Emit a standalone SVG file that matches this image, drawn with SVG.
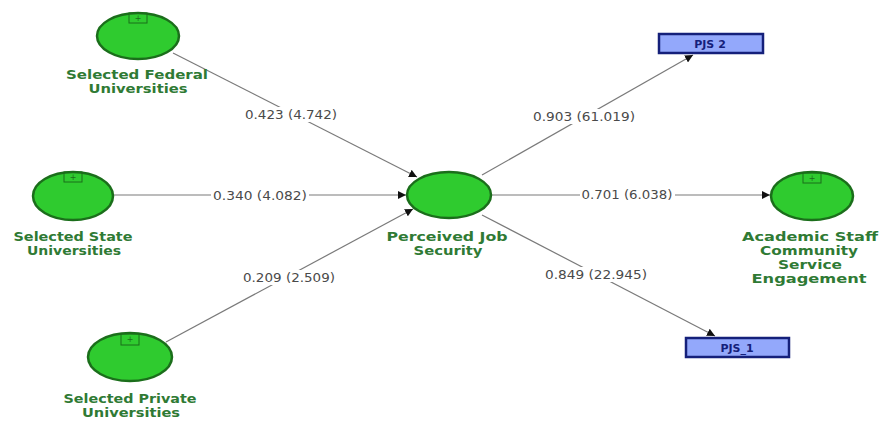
<svg xmlns="http://www.w3.org/2000/svg" width="879" height="421" viewBox="0 0 879 421">
<style>
.lv{fill:#2fcb2f;stroke:#1b6e1b;stroke-width:2.5}
.mk{fill:none;stroke:#1b6e1b;stroke-width:1}
.mkt{font-family:"DejaVu Sans",sans-serif;font-size:8px;fill:#1b6e1b;text-anchor:middle}
.nl{font-family:"DejaVu Sans",sans-serif;font-weight:bold;font-size:12px;fill:#2f7a34;text-anchor:middle}
.ind{fill:#93a8fb;stroke:#15207a;stroke-width:2.5}
.il{font-family:"DejaVu Sans",sans-serif;font-weight:bold;font-size:11px;fill:#15207a;text-anchor:middle}
.e{stroke:#7a7a7a;stroke-width:1.2;fill:none;marker-end:url(#ah)}
.el{font-family:"DejaVu Sans",sans-serif;font-size:11.5px;fill:#4a4a4a;text-anchor:middle}
.bg{fill:#fff}
</style>
<defs>
<marker id="ah" viewBox="0 0 10 10" refX="10" refY="5" markerWidth="8" markerHeight="8" orient="auto" markerUnits="userSpaceOnUse">
<path d="M0,0 L10,5 L0,10 z" fill="#111"/>
</marker>
</defs>
<rect width="879" height="421" fill="#fff"/>
<g id="connectors">
<line class="e" x1="173" y1="53" x2="417" y2="177"/>
<line class="e" x1="113" y1="195" x2="406" y2="195"/>
<line class="e" x1="166" y1="342" x2="413" y2="209"/>
<line class="e" x1="482" y1="175" x2="693" y2="55"/>
<line class="e" x1="491" y1="195" x2="770" y2="195"/>
<line class="e" x1="482" y1="215" x2="715" y2="336"/>
<rect class="bg" x="243" y="107" width="96" height="15"/>
<text class="el" x="291" y="119" textLength="92" lengthAdjust="spacingAndGlyphs">0.423 (4.742)</text>
<rect class="bg" x="211" y="188" width="98" height="15"/>
<text class="el" x="260" y="200" textLength="94" lengthAdjust="spacingAndGlyphs">0.340 (4.082)</text>
<rect class="bg" x="241" y="270" width="96" height="15"/>
<text class="el" x="289" y="282" textLength="92" lengthAdjust="spacingAndGlyphs">0.209 (2.509)</text>
<rect class="bg" x="531" y="109" width="106" height="15"/>
<text class="el" x="584" y="121" textLength="102" lengthAdjust="spacingAndGlyphs">0.903 (61.019)</text>
<rect class="bg" x="580" y="188" width="95" height="15"/>
<text class="el" x="627" y="199" textLength="91" lengthAdjust="spacingAndGlyphs">0.701 (6.038)</text>
<rect class="bg" x="543" y="267" width="106" height="15"/>
<text class="el" x="596" y="279" textLength="102" lengthAdjust="spacingAndGlyphs">0.849 (22.945)</text>
</g>
<g id="federal">
<ellipse class="lv" cx="138" cy="36" rx="41" ry="23"/>
<rect class="mk" x="129" y="13" width="18" height="10"/>
<text class="mkt" x="138" y="21">+</text>
<text class="nl" x="137" y="79" textLength="142" lengthAdjust="spacingAndGlyphs">Selected Federal</text>
<text class="nl" x="138" y="93" textLength="99" lengthAdjust="spacingAndGlyphs">Universities</text>
</g>
<g id="state">
<ellipse class="lv" cx="73" cy="196" rx="40" ry="24"/>
<rect class="mk" x="64" y="172" width="18" height="10"/>
<text class="mkt" x="73" y="180">+</text>
<text class="nl" x="73" y="241" textLength="119" lengthAdjust="spacingAndGlyphs">Selected State</text>
<text class="nl" x="74" y="255" textLength="94" lengthAdjust="spacingAndGlyphs">Universities</text>
</g>
<g id="private">
<ellipse class="lv" cx="130" cy="357" rx="42" ry="24"/>
<rect class="mk" x="121" y="334" width="18" height="11"/>
<text class="mkt" x="130" y="342">+</text>
<text class="nl" x="130" y="403" textLength="133" lengthAdjust="spacingAndGlyphs">Selected Private</text>
<text class="nl" x="131" y="417" textLength="98" lengthAdjust="spacingAndGlyphs">Universities</text>
</g>
<g id="pjs">
<ellipse class="lv" cx="449" cy="195" rx="42" ry="23"/>
<text class="nl" x="447" y="241" textLength="121" lengthAdjust="spacingAndGlyphs">Perceived Job</text>
<text class="nl" x="448" y="255" textLength="69" lengthAdjust="spacingAndGlyphs">Security</text>
</g>
<g id="academic">
<ellipse class="lv" cx="812" cy="196" rx="41" ry="24"/>
<rect class="mk" x="803" y="173" width="18" height="10"/>
<text class="mkt" x="812" y="181">+</text>
<text class="nl" x="810" y="241" textLength="136" lengthAdjust="spacingAndGlyphs">Academic Staff</text>
<text class="nl" x="809" y="255" textLength="98" lengthAdjust="spacingAndGlyphs">Community</text>
<text class="nl" x="810" y="269" textLength="64" lengthAdjust="spacingAndGlyphs">Service</text>
<text class="nl" x="809" y="283" textLength="115" lengthAdjust="spacingAndGlyphs">Engagement</text>
</g>
<g id="pjs2">
<rect class="ind" x="659" y="34" width="104" height="19"/>
<text class="il" x="710" y="48">PJS 2</text>
</g>
<g id="pjs1">
<rect class="ind" x="686" y="338" width="103" height="19"/>
<text class="il" x="737" y="352">PJS_1</text>
</g>
</svg>
